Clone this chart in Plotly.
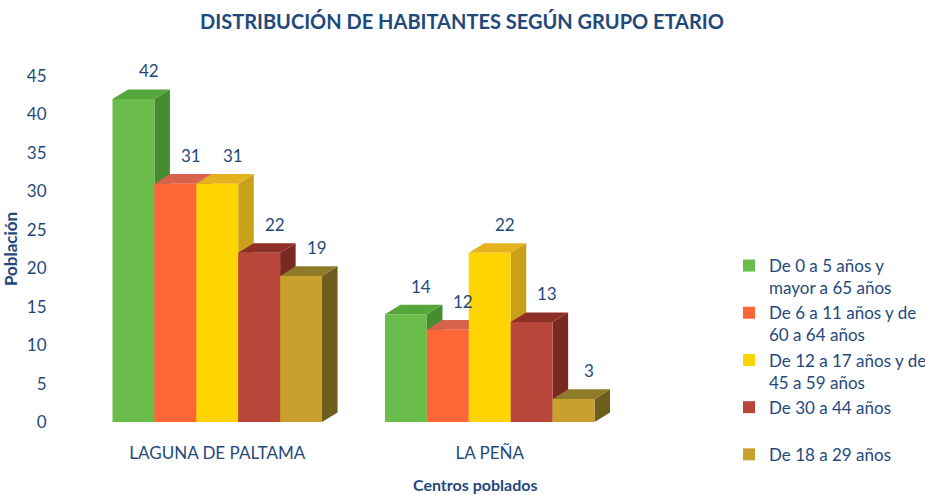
import plotly.graph_objects as go

categories = ["LAGUNA DE PALTAMA", "LA PEÑA"]
series_names = [
    "De 0 a 5 años y<br>mayor a 65 años",
    "De 6 a 11 años y de<br>60 a 64 años",
    "De 12 a 17 años y de<br>45 a 59 años",
    "De 30 a 44 años<br> ",
    "De 18 a 29 años",
]
values_0_5 = [42, 14]
values_6_11 = [31, 12]
values_12_17 = [31, 22]
values_30_44 = [22, 13]
values_18_29 = [19, 3]
series_values = [values_0_5, values_6_11, values_12_17, values_30_44, values_18_29]

front_colors = ["#6ABD4B", "#FF6636", "#FFD400", "#B8463A", "#C9A02E"]
top_colors = ["#57A63C", "#D8624A", "#E3B21C", "#8E3028", "#8E7B2A"]
side_colors = ["#468C30", "#C44E2C", "#C9A01A", "#7A2822", "#6E5E1E"]

TEXT = "#1F497D"
FONT = "Lato"

bargap = 0.231
n = len(series_values)
bw = (1 - bargap) / n
dx = 0.057   # depth offset in category units
dy = 1.25    # depth offset in value units

fig = go.Figure()
for i, (name, vals) in enumerate(zip(series_names, series_values)):
    fig.add_trace(go.Bar(
        x=categories, y=vals, name=name,
        marker=dict(color=front_colors[i], line=dict(width=0)),
        hoverinfo="y",
    ))

shapes = []
annotations = []
for i, vals in enumerate(series_values):
    for c, v in enumerate(vals):
        x0 = c - (1 - bargap) / 2 + i * bw
        x1 = x0 + bw
        side = f"M {x1},0 L {x1+dx},{dy} L {x1+dx},{v+dy} L {x1},{v} Z"
        top = f"M {x0},{v} L {x0+dx},{v+dy} L {x1+dx},{v+dy} L {x1},{v} Z"
        shapes.append(dict(type="path", path=side, xref="x", yref="y",
                           fillcolor=side_colors[i], line=dict(width=0), layer="below"))
        shapes.append(dict(type="path", path=top, xref="x", yref="y",
                           fillcolor=top_colors[i], line=dict(width=0), layer="below"))
        annotations.append(dict(x=(x0 + x1) / 2 + dx, y=v + dy, text=str(v),
                                xref="x", yref="y", showarrow=False,
                                yanchor="bottom", yshift=6,
                                font=dict(family=FONT, size=17, color=TEXT)))

annotations.append(dict(text="<b>Centros poblados</b>", xref="paper", yref="paper",
                        x=(475 - 81) / 545, y=-(484 - 422) / 346,
                        xanchor="center", yanchor="middle", showarrow=False,
                        font=dict(family=FONT, size=16, color=TEXT)))

fig.update_layout(
    width=925, height=495,
    margin=dict(l=81, r=299, t=76, b=73, autoexpand=False),
    paper_bgcolor="white", plot_bgcolor="white",
    barmode="group", bargap=bargap, bargroupgap=0,
    shapes=shapes, annotations=annotations,
    title=dict(text="<b>DISTRIBUCIÓN DE HABITANTES SEGÚN GRUPO ETARIO</b>",
               x=462 / 925, xref="container", y=1 - 22 / 495, yref="container",
               xanchor="center", yanchor="middle",
               font=dict(family=FONT, size=20, color=TEXT)),
    font=dict(family=FONT, color=TEXT),
    showlegend=True,
    legend=dict(xref="container", yref="container", x=729 / 925, y=1 - 248 / 495,
                xanchor="left", yanchor="top", valign="top",
                font=dict(family=FONT, size=17, color=TEXT),
                traceorder="normal", bgcolor="rgba(0,0,0,0)"),
)
fig.update_xaxes(
    type="category", range=[-0.5, 1.5], showgrid=False, zeroline=False,
    showline=False, ticks="outside", ticklen=16, tickcolor="rgba(0,0,0,0)",
    tickfont=dict(family=FONT, size=17, color=TEXT),
)
fig.update_yaxes(
    range=[0, 45], dtick=5, showgrid=False, zeroline=False, showline=False,
    ticks="outside", ticklen=30, tickcolor="rgba(0,0,0,0)",
    tickfont=dict(family=FONT, size=17, color=TEXT),
    title=dict(text="<b>Población</b>", standoff=4,
               font=dict(family=FONT, size=17, color=TEXT)),
)

fig.write_html("out.html", config={"displayModeBar": False},
               post_script="document.body.style.margin='0';")
